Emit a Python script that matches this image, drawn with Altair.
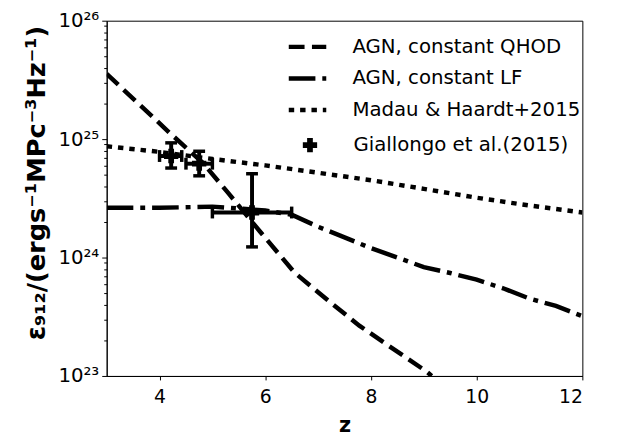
import altair as alt
import pandas as pd

# ---- data ----
series_names = ["AGN, constant QHOD", "AGN, constant LF", "Madau & Haardt+2015"]
point_name = "Giallongo et al.(2015)"

z_qhod = [3.0, 3.6, 4.2, 4.82, 5.29, 5.9, 6.55, 7.2, 7.78, 8.4, 9.04, 9.15]
eps_qhod = [3.55e25, 2.0e25, 1.12e25, 6.3e24, 3.55e24, 1.66e24, 7.5e23, 4.3e23,
            2.66e23, 1.72e23, 1.1e23, 1.0e23]

z_lf = [3.0, 4.0, 5.0, 6.0, 6.5, 7.0, 7.5, 8.0, 8.5, 9.0, 9.5, 10.0, 10.5, 11.0, 11.5, 12.0]
eps_lf = [2.63e24, 2.63e24, 2.69e24, 2.5e24, 2.3e24, 1.82e24, 1.48e24, 1.2e24, 1.0e24,
          8.3e23, 7.4e23, 6.5e23, 5.5e23, 4.5e23, 3.9e23, 3.2e23]

z_mh = [3, 4, 5, 6, 7, 8, 9, 10, 11, 12]
eps_mh = [8.7e24, 7.8e24, 6.8e24, 6.0e24, 5.2e24, 4.5e24, 3.8e24, 3.2e24, 2.75e24, 2.4e24]

g_z = [4.22, 4.75, 5.75]
g_zlo = [4.0, 4.5, 5.0]
g_zhi = [4.42, 5.0, 6.5]
g_eps = [7.2e24, 6.2e24, 2.4e24]
g_lo = [5.7e24, 4.9e24, 1.23e24]
g_hi = [9.3e24, 7.9e24, 5.1e24]

x_ticks = [4, 6, 8, 10, 12]
y_ticks = [k * 10.0 ** n for n in (23, 24, 25) for k in range(1, 10)] + [1e26]

# ---- tables ----
rows = []
for name, zs, es in zip(series_names, [z_qhod, z_lf, z_mh], [eps_qhod, eps_lf, eps_mh]):
    for zz, ee in zip(zs, es):
        rows.append({"series": name, "z": zz, "eps": ee})
lines_df = pd.DataFrame(rows)

g_df = pd.DataFrame({"z": g_z, "zlo": g_zlo, "zhi": g_zhi, "eps": g_eps,
                     "lo": g_lo, "hi": g_hi, "series": [point_name] * 3})
vcap_df = pd.DataFrame({"z": g_z + g_z, "eps": g_lo + g_hi})
hcap_df = pd.DataFrame({"z": g_zlo + g_zhi, "eps": g_eps + g_eps})

FONT = "DejaVu Sans"
xscale = alt.Scale(domain=[3, 12], nice=False, zero=False)
yscale = alt.Scale(type="log", domain=[1e23, 1e26], nice=False)

is_major = "abs(log(datum.value)/LN10 - round(log(datum.value)/LN10)) < 0.001"
label_expr = ("(" + is_major + ") ? (datum.value < 5e23 ? '10²³' : datum.value < 5e24 ? '10²⁴' : "
              "datum.value < 5e25 ? '10²⁵' : '10²⁶') : ''")

x_axis = alt.Axis(values=x_ticks, title="z", titleFontWeight="bold",
                  titleFontSize=21, titleFont=FONT, labelFont=FONT,
                  labelFontSize=19, tickSize=4, labelPadding=8,
                  titlePadding=8, grid=False, format="d")
y_axis = alt.Axis(orient="left", values=y_ticks, labelExpr=label_expr,
                  labelFont=FONT, labelFontSize=20, labelPadding=3, grid=False,
                  tickSize={"condition": {"test": is_major, "value": 5}, "value": 3},
                  title="ε₉₁₂/(ergs⁻¹MPc⁻³Hz⁻¹)", titleFont=FONT,
                  titleFontSize=26, titleFontWeight="bold",
                  titleX=-71, titleY=164, titleAngle=-90,
                  titleAlign="center", titleBaseline="middle")

lines = alt.Chart(lines_df).mark_line(color="black", strokeWidth=4.5, clip=True).encode(
    x=alt.X("z:Q", scale=xscale, axis=x_axis),
    y=alt.Y("eps:Q", scale=yscale, axis=y_axis),
    strokeDash=alt.StrokeDash(
        "series:N",
        scale=alt.Scale(domain=series_names,
                        range=[[16, 7.5], [27, 7, 5, 7], [5.5, 6]]),
        legend=alt.Legend(orient="none", legendX=182, legendY=5, title=None,
                          symbolType="stroke", symbolStrokeWidth=4.5,
                          symbolSize=1444, symbolStrokeColor="black",
                          labelFont=FONT, labelFontSize=20, labelColor="black",
                          labelLimit=0, labelOffset=24, rowPadding=-5, padding=0)),
    detail="series:N",
)

vbars = alt.Chart(g_df).mark_rule(color="black", strokeWidth=4).encode(
    x=alt.X("z:Q", scale=xscale, axis=x_axis),
    y=alt.Y("lo:Q", scale=yscale, axis=y_axis),
    y2="hi:Q",
)

hbars = alt.Chart(g_df).mark_rule(color="black", strokeWidth=4).encode(
    x=alt.X("zlo:Q", scale=xscale, axis=x_axis),
    x2="zhi:Q",
    y=alt.Y("eps:Q", scale=yscale, axis=y_axis),
)

vcaps = alt.Chart(vcap_df).mark_tick(color="black", orient="horizontal",
                                     size=12, thickness=3.5, opacity=1).encode(
    x=alt.X("z:Q", scale=xscale, axis=x_axis),
    y=alt.Y("eps:Q", scale=yscale, axis=y_axis),
)

hcaps = alt.Chart(hcap_df).mark_tick(color="black", orient="vertical",
                                     size=12, thickness=3.5, opacity=1).encode(
    x=alt.X("z:Q", scale=xscale, axis=x_axis),
    y=alt.Y("eps:Q", scale=yscale, axis=y_axis),
)

points = alt.Chart(g_df).mark_point(filled=True, color="black", size=210,
                                    opacity=1).encode(
    x=alt.X("z:Q", scale=xscale, axis=x_axis),
    y=alt.Y("eps:Q", scale=yscale, axis=y_axis),
    shape=alt.Shape("series:N",
                    scale=alt.Scale(domain=[point_name], range=["cross"]),
                    legend=alt.Legend(orient="none", legendX=196, legendY=116,
                                      title=None, symbolSize=210,
                                      symbolFillColor="black",
                                      symbolStrokeColor="black",
                                      labelFont=FONT, labelFontSize=20,
                                      labelColor="black", labelLimit=0,
                                      labelOffset=34, padding=0)),
)

chart = alt.layer(lines, vbars, hbars, vcaps, hcaps, points).properties(
    width=482, height=360,
    autosize=alt.AutoSizeParams(type="none"),
    padding={"left": 100, "top": 10, "right": 27, "bottom": 61},
).configure_view(
    stroke="black", strokeWidth=1
).configure_axis(
    domainColor="black", tickColor="black", labelColor="black", titleColor="black",
    domainWidth=1, tickWidth=1
)

chart.save("out.html", embed_options={"renderer": "svg", "actions": False})
